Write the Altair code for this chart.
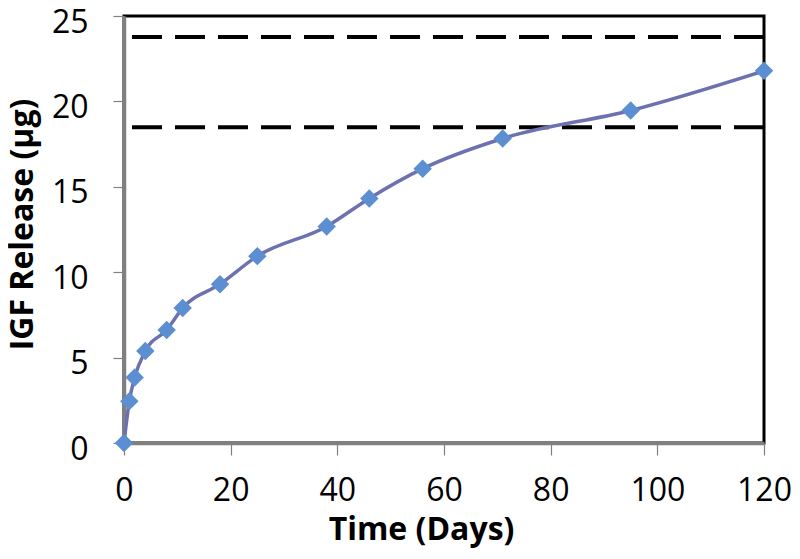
import altair as alt
import pandas as pd

days = [0, 1, 2, 4, 8, 11, 18, 25, 38, 46, 56, 71, 95, 120]
release = [0, 2.45, 3.84, 5.39, 6.62, 7.9, 9.3, 10.94, 12.68, 14.32, 16.06, 17.83, 19.47, 21.79]
ref_levels = [23.77, 18.49]
x_ticks = [0, 20, 40, 60, 80, 100, 120]
y_ticks = [0, 5, 10, 15, 20, 25]

df = pd.DataFrame({"day": days, "release": release})
ref = pd.DataFrame({"level": ref_levels})

FONT = "Open Sans"

x_enc = alt.X(
    "day:Q",
    scale=alt.Scale(domain=[0, 120], nice=False, zero=False),
    axis=alt.Axis(
        values=x_ticks, grid=False, title="Time (Days)",
        domainColor="#808080", domainWidth=3.5,
        tickColor="#808080", tickSize=12, tickWidth=1.2,
        labelFont=FONT, labelFontSize=32, labelColor="black",
        labelBaseline="alphabetic", labelPadding=45,
        labelFlush=False, labelOverlap=False,
        titleFont=FONT, titleFontSize=32, titleFontWeight="bold", titleColor="black",
        titleX=297, titleY=96, titleBaseline="alphabetic", titleAlign="center",
    ),
)
y_enc = alt.Y(
    "release:Q",
    scale=alt.Scale(domain=[0, 25], nice=False),
    axis=alt.Axis(
        values=y_ticks, grid=False, title="IGF Release (µg)",
        domainColor="#808080", domainWidth=3.5,
        tickColor="#808080", tickSize=11, tickWidth=1.2,
        labelFont=FONT, labelFontSize=32, labelColor="black",
        labelBaseline="alphabetic", labelOffset=16, labelPadding=25,
        labelOverlap=False,
        titleFont=FONT, titleFontSize=32, titleFontWeight="bold", titleColor="black",
        titleX=-92, titleY=208, titleBaseline="alphabetic", titleAlign="center",
        titleAngle=270,
    ),
)

rules = alt.Chart(ref).mark_rule(
    color="black", strokeWidth=4, strokeDash=[30, 13]
).encode(y=alt.Y("level:Q", scale=alt.Scale(domain=[0, 25], nice=False)))

line = alt.Chart(df).mark_line(
    color="#6e71b0", strokeWidth=3.5, interpolate="monotone"
).encode(x=x_enc, y=y_enc)

points = alt.Chart(df).mark_point(
    shape="diamond", filled=True, size=340, color="#5b8fd1", opacity=1
).encode(x="day:Q", y="release:Q")

chart = alt.layer(rules, line, points).properties(
    width=640, height=427,
    autosize=alt.AutoSizeParams(type="none"),
    padding={"left": 116, "top": 8, "right": 28, "bottom": 105},
).configure_view(
    stroke="black", strokeWidth=3
)

chart.save("out.html", embed_options={"renderer": "svg", "actions": False})
